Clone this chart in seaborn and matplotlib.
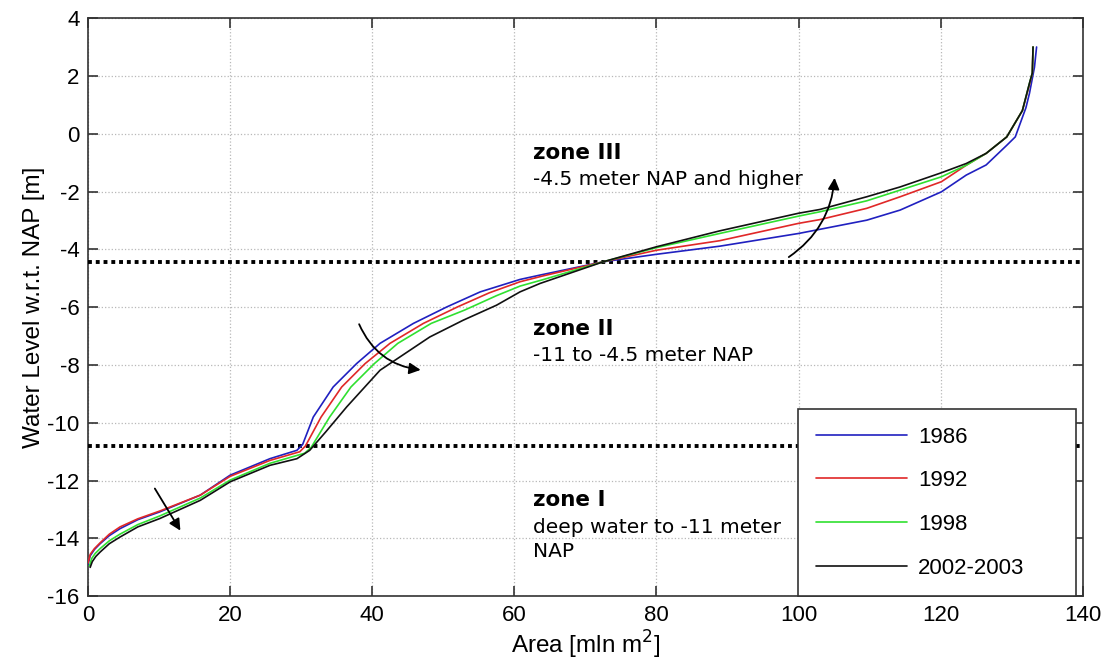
import numpy as np
import pandas as pd
import matplotlib
matplotlib.use("Agg")
import matplotlib.pyplot as plt
import seaborn as sns
from matplotlib.patches import FancyArrowPatch

# hypsometric curves: area [mln m2] vs water level [m NAP]
area_1986 = [0.0, 0.3, 0.9, 1.7, 3.0, 4.5, 7.0, 10.1, 15.8, 20.0, 25.6, 29.4, 30.2, 31.7, 34.5, 37.8,
             41.1, 45.8, 50.5, 55.2, 60.8, 63.6, 72.5, 80.0, 88.9, 100.0, 109.6, 114.3, 120.1, 123.6,
             126.4, 129.3, 130.5, 132.0, 132.5, 133.2, 133.5]
level_1986 = [-14.9, -14.6, -14.38, -14.18, -13.9, -13.66, -13.35, -13.08, -12.5, -11.81, -11.24, -10.95,
              -10.75, -9.8, -8.76, -7.95, -7.25, -6.56, -5.99, -5.47, -5.04, -4.89, -4.43, -4.17, -3.89,
              -3.45, -2.99, -2.64, -2.01, -1.43, -1.08, -0.4, -0.11, 0.9, 1.4, 2.3, 3.0]

area_1992 = [0.0, 0.3, 0.9, 1.7, 3.0, 4.5, 7.0, 10.1, 15.8, 20.0, 25.6, 29.8, 30.6, 32.8, 35.7, 39.0,
             42.5, 47.2, 52.0, 56.5, 60.8, 64.0, 72.5, 80.0, 88.9, 100.0, 103.0, 109.6, 114.3, 120.1,
             123.6, 126.4, 129.3, 131.5, 132.5, 132.9, 133.0]
level_1992 = [-14.85, -14.55, -14.35, -14.15, -13.85, -13.6, -13.32, -13.05, -12.5, -11.85, -11.3, -11.0,
              -10.8, -9.8, -8.76, -7.95, -7.25, -6.56, -5.99, -5.5, -5.12, -4.92, -4.43, -4.03, -3.7,
              -3.1, -2.97, -2.58, -2.18, -1.66, -1.09, -0.68, -0.11, 0.8, 1.7, 2.1, 3.0]

area_1998 = [0.2, 0.5, 1.0, 1.7, 3.0, 4.5, 7.0, 10.1, 15.8, 20.0, 25.6, 30.5, 31.4, 34.0, 37.0, 40.3,
             43.6, 48.3, 53.0, 57.5, 60.8, 64.0, 72.5, 80.0, 88.9, 100.0, 103.0, 109.6, 114.3, 120.1,
             123.6, 126.4, 129.3, 131.5, 132.5, 132.9, 133.0]
level_1998 = [-14.95, -14.7, -14.52, -14.35, -14.08, -13.85, -13.52, -13.22, -12.6, -11.98, -11.4, -11.05,
              -10.85, -9.8, -8.76, -7.95, -7.25, -6.56, -6.1, -5.6, -5.27, -5.05, -4.43, -3.94, -3.45,
              -2.85, -2.7, -2.32, -1.95, -1.49, -1.09, -0.68, -0.11, 0.8, 1.75, 2.1, 3.0]

area_2002 = [0.3, 0.6, 1.1, 1.7, 3.0, 4.5, 7.0, 10.1, 15.8, 20.0, 25.6, 29.4, 31.2, 33.5, 36.4, 41.1,
             43.9, 48.1, 52.8, 57.5, 60.8, 63.6, 72.5, 80.0, 88.9, 100.0, 103.0, 109.6, 114.3, 120.1,
             123.6, 126.4, 129.3, 131.5, 132.5, 132.9, 133.0]
level_2002 = [-15.0, -14.8, -14.62, -14.47, -14.18, -13.95, -13.6, -13.31, -12.68, -12.04, -11.47, -11.24,
              -10.95, -10.3, -9.45, -8.18, -7.72, -7.03, -6.45, -5.93, -5.47, -5.18, -4.43, -3.91, -3.36,
              -2.75, -2.62, -2.18, -1.84, -1.35, -1.03, -0.68, -0.11, 0.8, 1.75, 2.1, 3.0]

years = ["1986", "1992", "1998", "2002-2003"]
colors = ["#2020c0", "#e02828", "#30e030", "#111111"]

zone_limits = [-4.45, -10.8]

xticks = list(range(0, 141, 20))
yticks = list(range(-16, 5, 2))

frames = []
for yr, a, l in zip(years, [area_1986, area_1992, area_1998, area_2002],
                    [level_1986, level_1992, level_1998, level_2002]):
    frames.append(pd.DataFrame({"area": a, "level": l, "year": yr}))
df = pd.concat(frames, ignore_index=True)

sns.set_style("ticks")
plt.rcParams["font.family"] = ["Liberation Sans", "DejaVu Sans"]
plt.rcParams["axes.unicode_minus"] = False
plt.rcParams["text.color"] = "black"
plt.rcParams["axes.labelcolor"] = "black"
plt.rcParams["xtick.color"] = "black"
plt.rcParams["ytick.color"] = "black"

fig = plt.figure(figsize=(11.06, 6.70), dpi=100)
ax = fig.add_axes([0.0796, 0.110, 0.8994, 0.863])

ax.grid(True, linestyle=":", color="#b8b8b8", linewidth=0.9)
ax.set_axisbelow(True)

for yl in zone_limits:
    ax.axhline(yl, color="black", linewidth=2.8, linestyle=(0, (1, 1.0)), zorder=3)

sns.lineplot(data=df, x="area", y="level", hue="year", palette=colors, sort=False,
             estimator=None, linewidth=1.2, ax=ax, zorder=4)

ax.set_xlim(0, 140)
ax.set_ylim(-16, 4)
ax.set_xticks(xticks)
ax.set_yticks(yticks)
ax.tick_params(direction="in", length=7, width=1.2, top=True, right=True,
               labelsize=16, pad=6, color="#333333", labelcolor="black")
for s in ax.spines.values():
    s.set_color("#333333")
    s.set_linewidth(1.2)

ax.set_xlabel("Area [mln m$^2$]", fontsize=17.5, labelpad=2)
ax.set_ylabel("Water Level w.r.t. NAP [m]", fontsize=17.5, labelpad=2)

# zone annotations
zfont = dict(family="DejaVu Sans", va="center", ha="left", color="black")
ax.text(62.6, -0.68, "zone III", fontweight="bold", fontsize=15.5, **zfont)
ax.text(62.6, -1.6, "-4.5 meter NAP and higher", fontsize=14.5, **zfont)
ax.text(62.6, -6.74, "zone II", fontweight="bold", fontsize=15.5, **zfont)
ax.text(62.6, -7.66, "-11 to -4.5 meter NAP", fontsize=14.5, **zfont)
ax.text(62.6, -12.68, "zone I", fontweight="bold", fontsize=15.5, **zfont)
ax.text(62.6, -13.62, "deep water to -11 meter", fontsize=14.5, **zfont)
ax.text(62.6, -14.45, "NAP", fontsize=14.5, **zfont)

# arrows showing shift of the curves in time
arrows = [((9.2, -12.19), (13.2, -13.81), 0.0),
          ((38.0, -6.5), (47.2, -8.18), 0.3),
          ((98.3, -4.32), (105.1, -1.43), 0.25)]
for start, end, rad in arrows:
    ax.add_patch(FancyArrowPatch(start, end, arrowstyle="-|>", mutation_scale=17,
                                 connectionstyle=f"arc3,rad={rad}", color="black",
                                 linewidth=1.3, zorder=6))

handles, labels = ax.get_legend_handles_labels()
leg = ax.legend(handles, labels, loc="lower left", bbox_to_anchor=(0.714, 0.0, 0.279, 0.32),
                mode="expand", fontsize=16, frameon=True, fancybox=False, framealpha=1,
                edgecolor="#333333", handlelength=4.1, handletextpad=0.5,
                labelspacing=1.02, borderpad=0.8, borderaxespad=0)
leg.get_frame().set_linewidth(1.2)
leg.set_zorder(10)

fig.savefig("out.png", dpi=100)
